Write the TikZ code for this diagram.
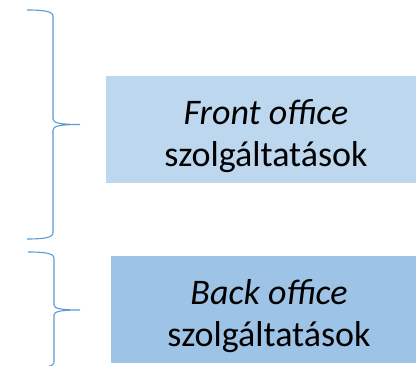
\documentclass[tikz,border=0pt]{standalone}
\usepackage{fontspec}
\setmainfont{Carlito}
\definecolor{bracecol}{HTML}{5B9BD5}
\definecolor{frontfill}{HTML}{BDD7EE}
\definecolor{backfill}{HTML}{9DC3E6}
\tikzset{
  brace line/.style={draw=bracecol, line width=1.1pt},
  service text/.style={align=center, anchor=base, font=\fontsize{36}{42}\selectfont, text=black}
}
\begin{document}
\begin{tikzpicture}[x=1pt,y=-1pt]
  \useasboundingbox (0,0) rectangle (416,366);
  \clip (0,0) rectangle (416,366);
  % braces
  \draw[brace line] (27,10) .. controls (42,10) and (53,11) .. (53,16) -- (53,119)
    .. controls (53,123) and (60,124.5) .. (80,124.5)
    .. controls (60,124.5) and (53,126) .. (53,130) -- (53,233)
    .. controls (53,238) and (42,239) .. (27,239);
  \draw[brace line] (28,252) .. controls (43,252) and (54,253) .. (54,258) -- (54,305)
    .. controls (54,308.5) and (61,310) .. (80,310)
    .. controls (61,310) and (54,311.5) .. (54,315) -- (54,362)
    .. controls (54,367) and (43,368) .. (28,368);
  % boxes (base anchor = last line)
  \fill[frontfill] (106,76) rectangle (430,183);
  \node[service text] (front) at (266,167) {\textit{Front office}\\szolgáltatások};
  \fill[backfill] (111,256) rectangle (430,363);
  \node[service text] (back) at (269,347) {\textit{Back office}\\szolgáltatások};
\end{tikzpicture}
\end{document}
